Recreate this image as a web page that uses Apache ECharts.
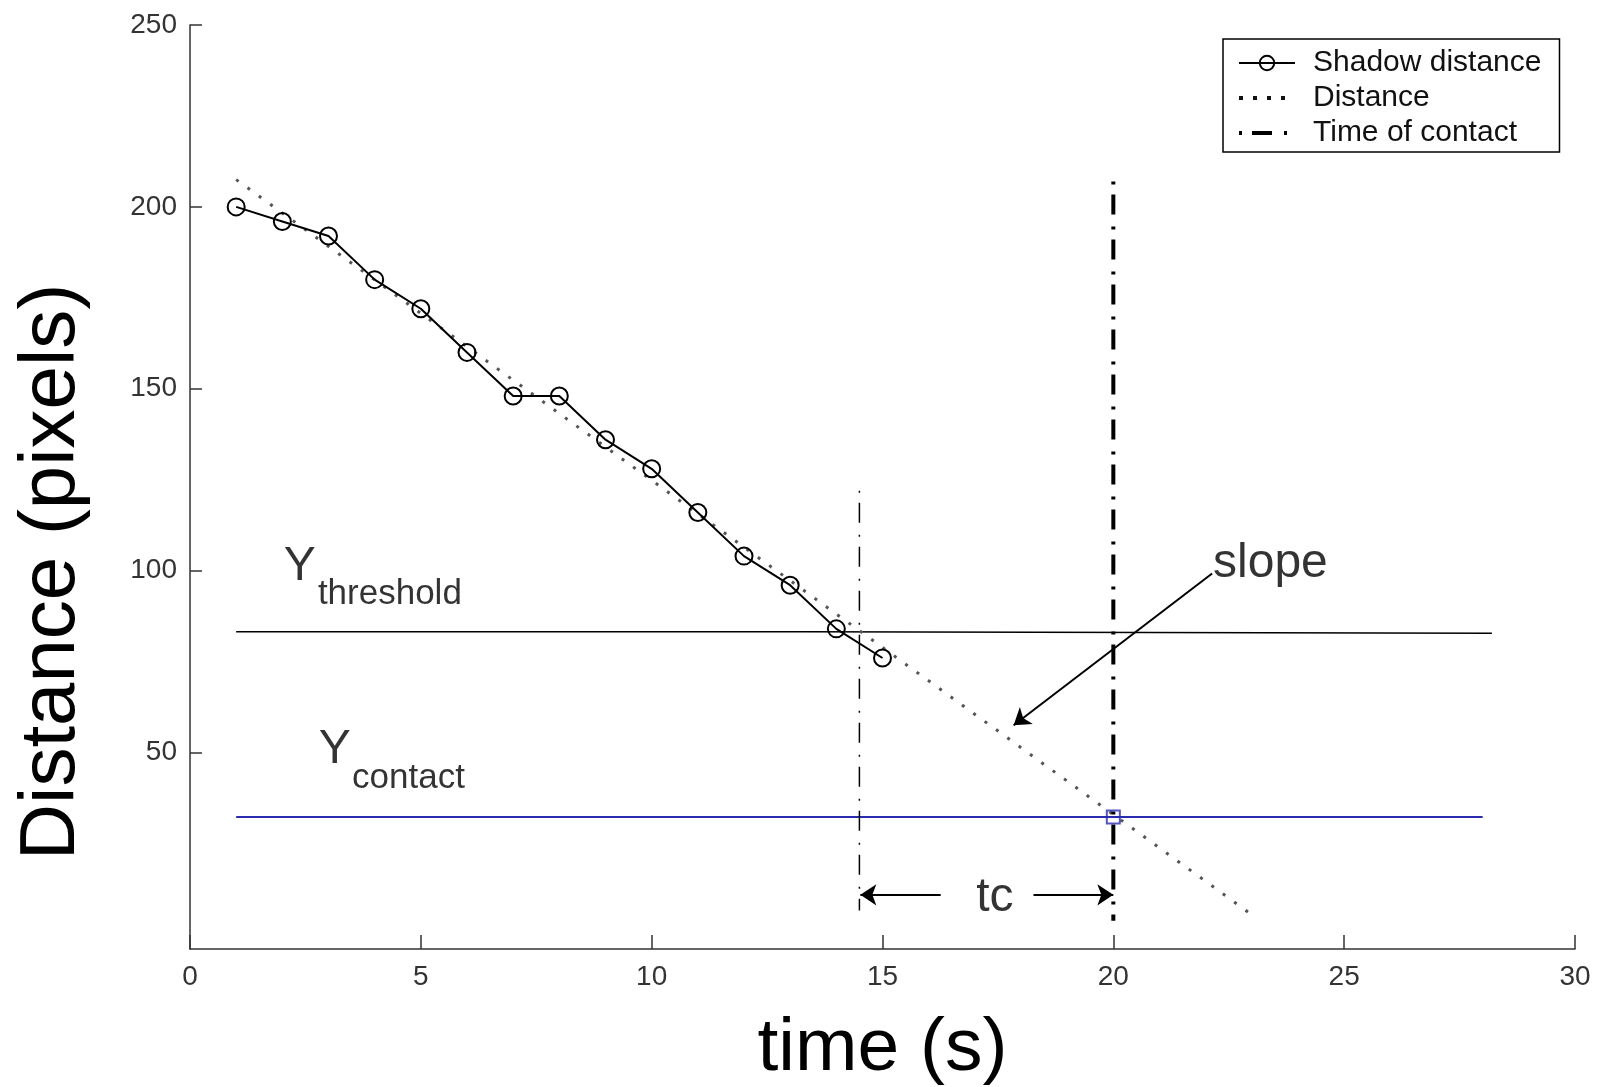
<!DOCTYPE html>
<html>
<head>
<meta charset="utf-8">
<script src="https://cdn.jsdelivr.net/npm/echarts@6/dist/echarts.min.js"></script>
<style>
  html, body { margin: 0; padding: 0; background: #fff; }
  #main { width: 1602px; height: 1087px; }
</style>
</head>
<body>
<div id="main"></div>
<script>
// measured shadow distance per second
const timeS = [1, 2, 3, 4, 5, 6, 7, 8, 9, 10, 11, 12, 13, 14, 15];
const shadowDist = [200, 196, 192, 180, 172, 160, 148, 148, 136, 128, 116, 104, 96, 84, 76];

// fitted distance line (end points)
const fitTime = [1, 23.1];
const fitDist = [207.5, 4.5];

// time of contact markers
const contactTime = [20, 20];
const contactSpan = [207, 3.8];
const startTime = [14.5, 14.5];
const startSpan = [122, 6.6];

// horizontal reference levels
const thresholdTime = [1, 13.3, 13.3, 28.2];
const thresholdDist = [83.2, 83.2, 82.8, 82.8];
const contactLineTime = [1, 28];
const contactLineDist = [32.3, 32.3];
const contactPoint = [20, 32.3];

const yTicks = [50, 100, 150, 200, 250];

// text annotations: [x, y, text, fontSize]
const notes = [
  [2.03, 101.0, 'Y', 48],
  [2.77, 93.6, 'threshold', 35],
  [2.79, 50.8, 'Y', 48],
  [3.51, 43.0, 'contact', 35],
  [22.16, 102.0, 'slope', 48],
  [17.03, 10.2, 'tc', 48]
];
// arrows: [fromX, fromY, toX, toY]
const arrows = [
  [16.26, 10.9, 14.52, 10.9],
  [18.27, 10.9, 20.0, 10.9],
  [22.14, 99.2, 17.84, 57.5]
];

const zip = (xs, ys) => xs.map((x, i) => [x, ys[i]]);
const font = 'Liberation Sans, Arial, Helvetica, sans-serif';
const dashDot = [3, 10, 20, 12];
const clear = 'rgba(0,0,0,0)';

const chart = echarts.init(document.getElementById('main'));
chart.setOption({
  animation: false,
  backgroundColor: '#fff',
  textStyle: { fontFamily: font },
  grid: { left: 190, right: 27, top: 25, bottom: 138, containLabel: false, outerBoundsMode: 'none' },
  legend: {
    data: [
      'Shadow distance',
      { name: 'Distance', lineStyle: { color: '#111', width: 4, type: [4, 10] } },
      { name: 'Time of contact', lineStyle: { color: '#000', width: 4, type: dashDot } }
    ],
    orient: 'vertical',
    left: 1223,
    top: 39,
    padding: [9, 18, 4, 14],
    itemGap: 5,
    itemWidth: 56,
    itemHeight: 18,
    borderColor: '#000',
    borderWidth: 1.5,
    backgroundColor: '#fff',
    textStyle: { fontSize: 30, color: '#111', padding: [0, 0, 0, 13], fontFamily: font }
  },
  xAxis: {
    type: 'value',
    min: 0,
    max: 30,
    interval: 5,
    name: 'time (s)',
    nameLocation: 'middle',
    nameGap: 63,
    nameTextStyle: { fontSize: 75, color: '#000', fontFamily: font },
    axisLine: { onZero: false, lineStyle: { color: '#333', width: 1.5 } },
    axisTick: { inside: true, length: 14, lineStyle: { color: '#333', width: 1.5 } },
    axisLabel: { fontSize: 28, color: '#333', margin: 14 },
    splitLine: { show: false }
  },
  yAxis: {
    type: 'value',
    min: -4,
    max: 250,
    name: 'Distance (pixels)',
    nameLocation: 'middle',
    nameRotate: 90,
    nameGap: 99,
    nameTextStyle: { fontSize: 78, color: '#000', padding: [0, 170, 0, 0], fontFamily: font },
    axisLine: { onZero: false, lineStyle: { color: '#333', width: 1.5 } },
    axisTick: { inside: true, length: 12, customValues: yTicks, lineStyle: { color: '#333', width: 1.5 } },
    axisLabel: { fontSize: 28, color: '#333', margin: 13, customValues: yTicks },
    splitLine: { show: false }
  },
  series: [
    {
      name: 'threshold',
      type: 'line',
      data: zip(thresholdTime, thresholdDist),
      symbol: 'none',
      lineStyle: { color: '#000', width: 1.5 },
      z: 1
    },
    {
      name: 'contact level',
      type: 'line',
      data: zip(contactLineTime, contactLineDist),
      symbol: 'none',
      lineStyle: { color: '#2b2bb0', width: 2 },
      z: 1
    },
    {
      name: 'Distance',
      type: 'line',
      data: zip(fitTime, fitDist),
      symbol: 'circle',
      showSymbol: false,
      lineStyle: { color: '#555', width: 3, type: [3, 11] },
      itemStyle: { color: clear, borderColor: clear, borderWidth: 0 },
      z: 2
    },
    {
      name: 'Time of contact',
      type: 'line',
      data: zip(contactTime, contactSpan),
      symbol: 'circle',
      showSymbol: false,
      lineStyle: { color: '#000', width: 4, type: dashDot },
      itemStyle: { color: clear, borderColor: clear, borderWidth: 0 },
      z: 3
    },
    {
      name: 'tc start',
      type: 'line',
      data: zip(startTime, startSpan),
      symbol: 'none',
      lineStyle: { color: '#000', width: 1.5, type: [2, 10, 20, 12] },
      z: 3
    },
    {
      name: 'Shadow distance',
      type: 'line',
      data: zip(timeS, shadowDist),
      symbol: 'circle',
      symbolSize: 17,
      showAllSymbol: true,
      lineStyle: { color: '#000', width: 2 },
      itemStyle: { color: 'rgba(255,255,255,0)', borderColor: '#000', borderWidth: 2 },
      z: 5
    },
    {
      name: 'contact point',
      type: 'scatter',
      data: [contactPoint],
      symbol: 'rect',
      symbolSize: 13,
      itemStyle: { color: 'rgba(255,255,255,0)', borderColor: '#2b2bb0', borderWidth: 2 },
      z: 6
    },
    {
      name: 'notes',
      type: 'scatter',
      symbolSize: 0,
      silent: true,
      data: notes.map(n => ({
        value: [n[0], n[1]],
        label: { formatter: n[2], fontSize: n[3] }
      })),
      label: { show: true, position: 'right', distance: 0, color: '#000', fontFamily: font },
      markLine: {
        silent: true,
        symbol: ['none', 'arrow'],
        symbolSize: 16,
        label: { show: false },
        lineStyle: { color: '#000', width: 2, type: 'solid' },
        data: arrows.map(a => [{ coord: [a[0], a[1]] }, { coord: [a[2], a[3]] }])
      },
      z: 7
    }
  ]
});
</script>
</body>
</html>
